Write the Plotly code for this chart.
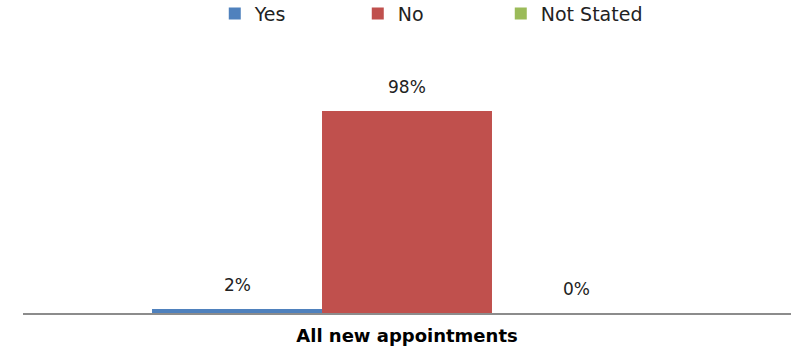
import plotly.graph_objects as go

# Share of new appointments by response
category = ["All new appointments"]
series_names = ["Yes", "No", "Not Stated"]
series_values = [[0.02], [0.98], [0.00]]
series_colors = ["#4F81BD", "#C0504D", "#9BBB59"]

FONT = "DejaVu Sans"
BARGAP = 0.336

fig = go.Figure()
n = len(series_names)
bar_w = (1 - BARGAP) / n
for i, (name, vals, color) in enumerate(zip(series_names, series_values, series_colors)):
    fig.add_trace(go.Bar(
        x=category,
        y=vals,
        name=name,
        marker=dict(color=color, line=dict(width=0)),
    ))
    # value labels sit a little above each bar
    for j, v in enumerate(vals):
        fig.add_annotation(
            x=j + (i - (n - 1) / 2) * bar_w,
            y=v,
            xref="x",
            yref="y",
            text=f"{v:.0%}",
            showarrow=False,
            yanchor="bottom",
            yshift=12,
            font=dict(family=FONT, size=17, color="#222222"),
        )

fig.update_layout(
    width=791,
    height=354,
    margin=dict(l=23, r=0, t=107, b=41, autoexpand=False),
    paper_bgcolor="white",
    plot_bgcolor="white",
    barmode="group",
    bargap=BARGAP,
    bargroupgap=0,
    showlegend=True,
    legend=dict(
        orientation="h",
        x=0.529,
        xanchor="center",
        y=1.545,
        yref="paper",
        yanchor="top",
        font=dict(family=FONT, size=19, color="#222222"),
        entrywidth=98,
        traceorder="normal",
    ),
    xaxis=dict(
        type="category",
        showline=True,
        linecolor="#8C8C8C",
        linewidth=2,
        ticks="",
        showgrid=False,
        ticklabelstandoff=5,
        tickfont=dict(family=FONT, size=18, color="#000000"),
        tickvals=category,
        ticktext=[f"<b>{c}</b>" for c in category],
    ),
    yaxis=dict(
        range=[0, 1.0],
        visible=False,
        showgrid=False,
        zeroline=False,
    ),
)

fig.write_html("out.html")
